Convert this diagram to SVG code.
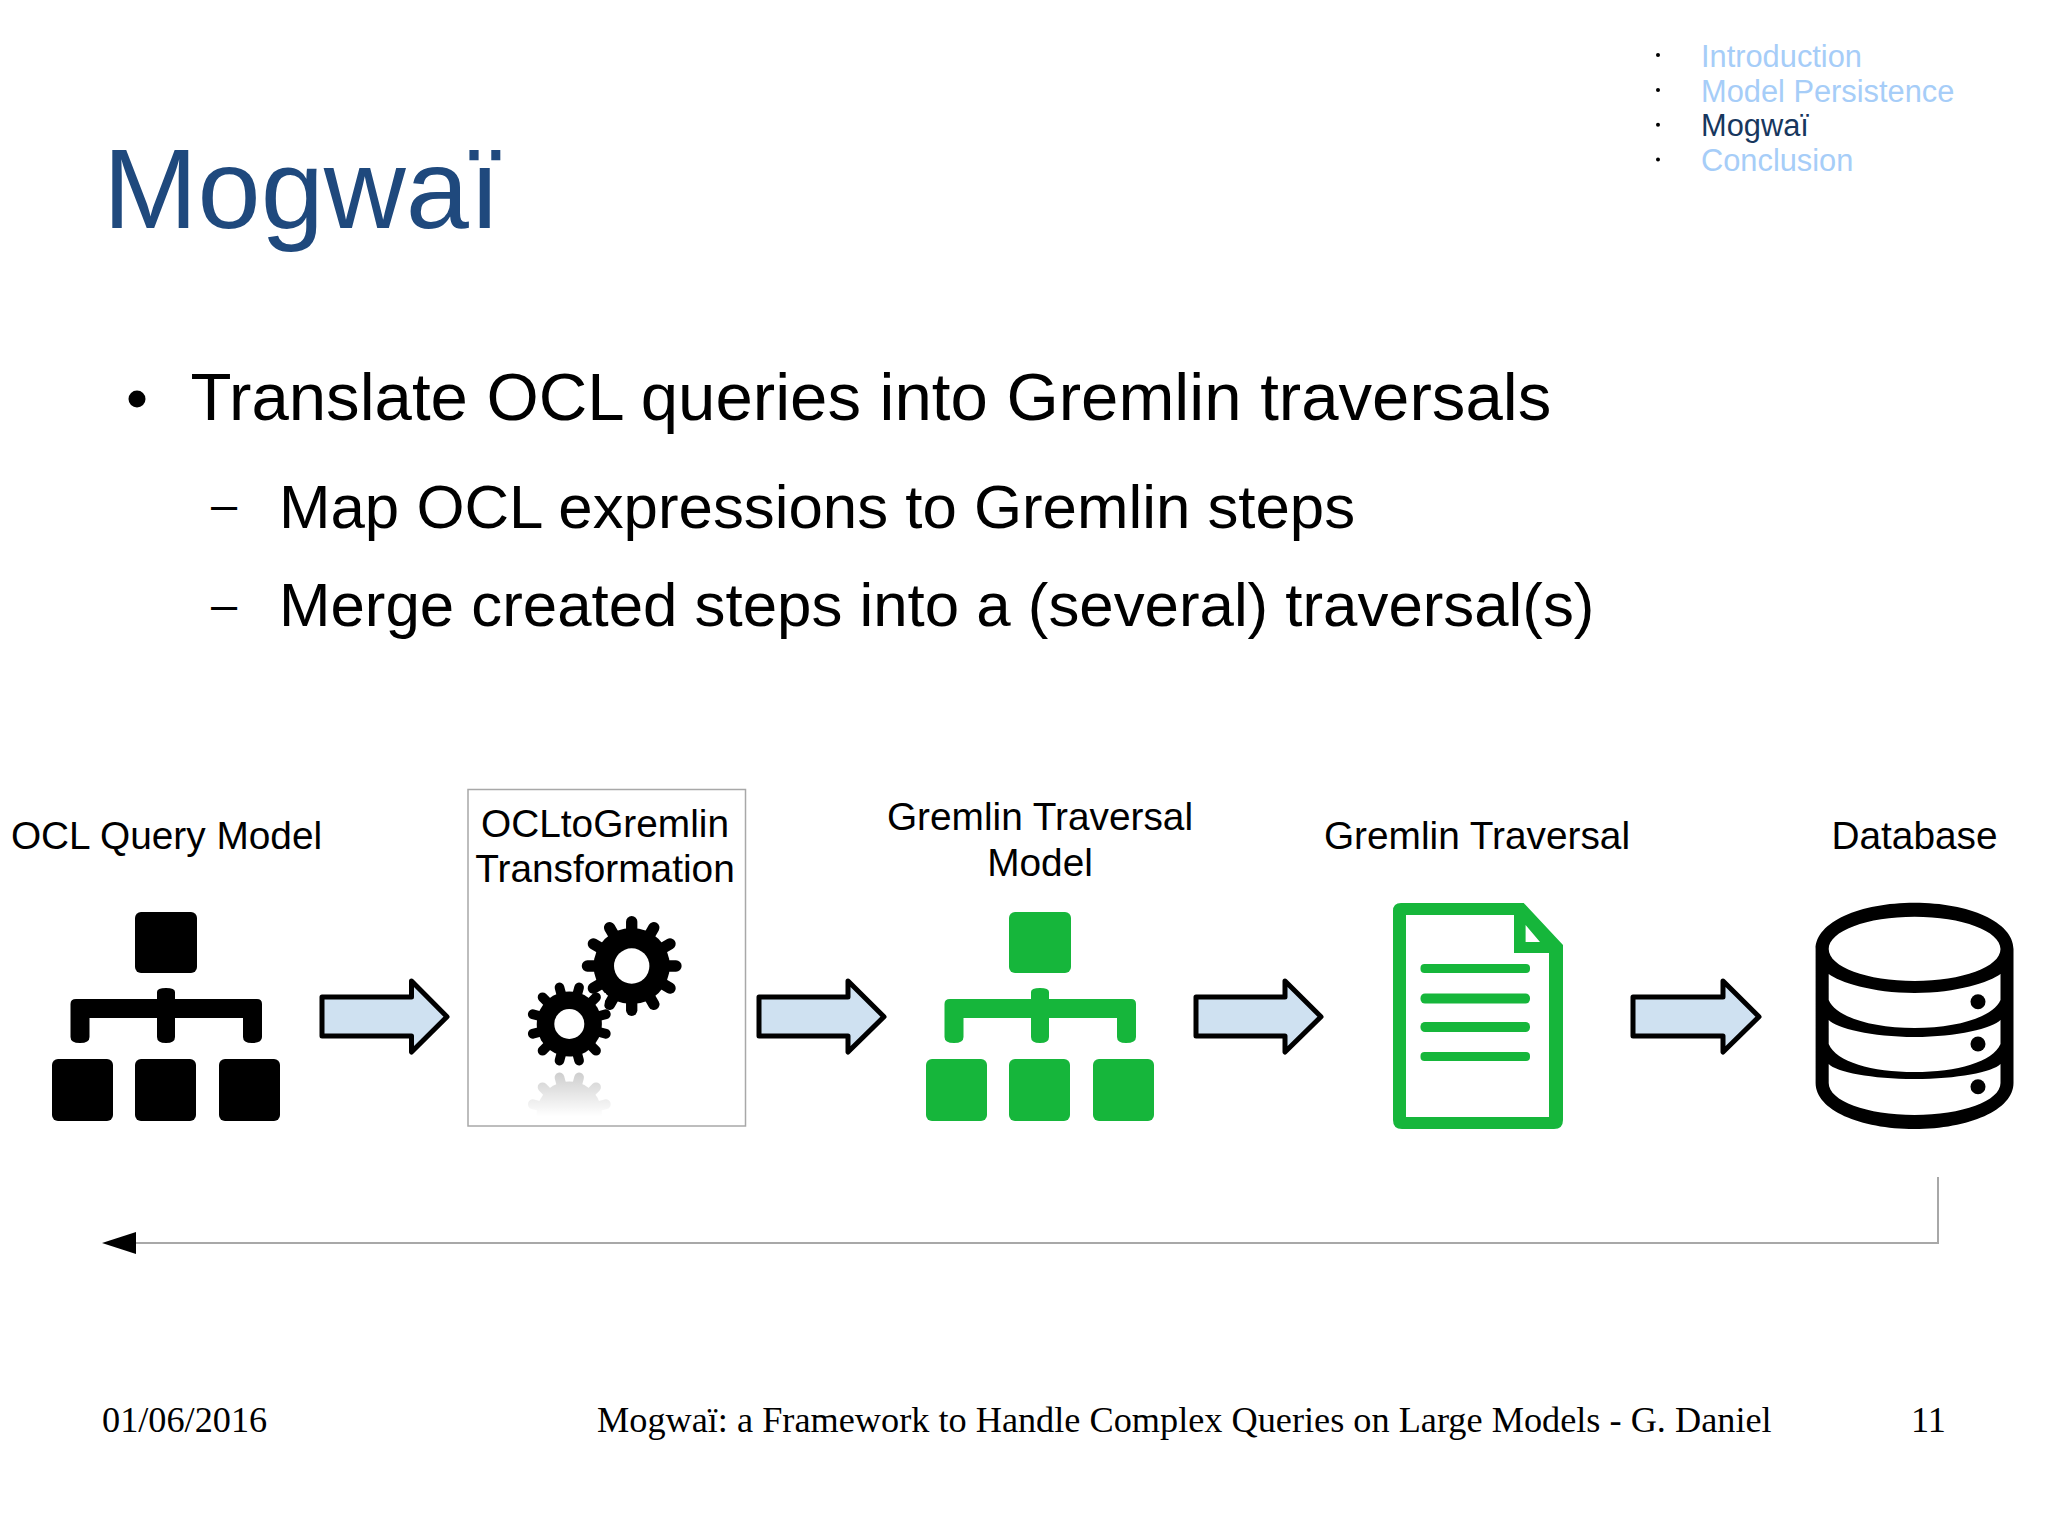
<svg xmlns="http://www.w3.org/2000/svg" xmlns:xlink="http://www.w3.org/1999/xlink" width="2048" height="1535" viewBox="0 0 2048 1535">
<style>
text{font-family:"Liberation Sans",Arial,sans-serif;fill:#000}
.title{font-size:113.5px;fill:#1f497d}
.l1{font-size:67.15px}
.l2{font-size:61.8px}
.dash{font-size:47px}
.nav{font-size:30.8px;fill:#a6cdf8}
.navon{font-size:30.8px;fill:#17375e}
.lbl{font-size:38.8px;text-anchor:middle}
.foot{font-family:"Liberation Serif",serif;font-size:36.27px}
.blk{fill:#000}
.grn{fill:#16b63b}
.block{fill:#cfe1f1;stroke:#000;stroke-width:5;stroke-linejoin:round}
.wire{fill:none;stroke:#a8a8a8;stroke-width:2}
.tooth{stroke:#000;stroke-width:11;stroke-linecap:round}
</style>
<defs>
<marker id="tri" markerUnits="userSpaceOnUse" markerWidth="34" markerHeight="22" refX="0" refY="11" orient="auto"><path d="M0,0L34,11L0,22Z" fill="#000"/></marker>
<linearGradient id="fade" x1="0" y1="0" x2="0" y2="1"><stop offset="0" stop-color="#fff" stop-opacity="0.05"/><stop offset="1" stop-color="#fff" stop-opacity="1"/></linearGradient>
<clipPath id="boxclip"><rect x="469" y="1060" width="275" height="62"/></clipPath>
<g id="gear"><circle r="37" fill="#000"/>
<g id="t3"><line class="tooth" x1="0" y1="-30" x2="0" y2="-43"/><line class="tooth" x1="0" y1="-30" x2="0" y2="-43" transform="rotate(30)"/><line class="tooth" x1="0" y1="-30" x2="0" y2="-43" transform="rotate(60)"/></g>
<use xlink:href="#t3" href="#t3" transform="rotate(90)"/><use xlink:href="#t3" href="#t3" transform="rotate(180)"/><use xlink:href="#t3" href="#t3" transform="rotate(270)"/>
</g>
<g id="tree">
<rect x="83" y="0" width="62" height="61" rx="6"/>
<path d="M18.500,104 V92 Q18.500,87 24,87 H105 V80 Q105,76 114,76 Q123,76 123,80 V87 H205 Q210,87 210,92 V125 Q210,131 200,131 Q191,131 191,125 V106 H123 V125 Q123,131 114,131 Q105,131 105,125 V106 H37.500 V125 Q37.500,131 28,131 Q18.500,131 18.500,125 Z"/>
<rect x="0" y="147" width="61" height="62" rx="6"/><rect x="83" y="147" width="61" height="62" rx="6"/><rect x="167" y="147" width="61" height="62" rx="6"/>
</g>
</defs>

<g id="header">
<text class="title" x="103" y="228">Mogwaï</text>
</g>
<g id="nav">
<circle cx="1658" cy="55" r="2"/><circle cx="1658" cy="90" r="2"/><circle cx="1658" cy="124.700" r="2"/><circle cx="1658" cy="159.500" r="2"/>
<text class="nav" x="1701" y="67.300">Introduction</text>
<text class="nav" x="1701" y="102">Model Persistence</text>
<text class="navon" x="1701" y="136">Mogwaï</text>
<text class="nav" x="1701" y="170.700">Conclusion</text>
</g>
<g id="body">
<circle cx="137" cy="399" r="8.500"/>
<text class="l1" x="190.500" y="420">Translate OCL queries into Gremlin traversals</text>
<text class="dash" x="211" y="519.500">–</text>
<text class="l2" x="279" y="528">Map OCL expressions to Gremlin steps</text>
<text class="dash" x="211" y="620">–</text>
<text class="l2" x="279" y="626">Merge created steps into a (several) traversal(s)</text>
</g>

<g id="connectors">
<polygon class="block" points="322,997 411.500,997 411.500,981 447,1016.700 411.500,1052 411.500,1036 322,1036" />
<polygon class="block" points="759,997 848,997 848,981 884,1016.700 848,1052 848,1036 759,1036" />
<polygon class="block" points="1196,997 1285,997 1285,981 1321,1016.700 1285,1052 1285,1036 1196,1036" />
<polygon class="block" points="1633,997 1723,997 1723,981 1759,1016.700 1723,1052 1723,1036 1633,1036" />
<path class="wire" d="M1938,1177V1243H136" marker-end="url(#tri)"/>
</g>

<g id="node-ocl-query-model">
<text class="lbl" x="166.500" y="849">OCL Query Model</text>
<use xlink:href="#tree" href="#tree" x="52" y="912" class="blk"/>
</g>
<g id="node-ocltogremlin">
<rect x="468" y="789.500" width="277.500" height="336.500" fill="#fff" stroke="#a8a8a8" stroke-width="1.500"/>
<text class="lbl" x="605" y="837">OCLtoGremlin</text>
<text class="lbl" x="605" y="882">Transformation</text>
<use xlink:href="#gear" href="#gear" transform="translate(631.700,966) scale(1.03)"/>
<circle cx="631.700" cy="966" r="17.700" fill="#fff"/>
<path d="M588,999L606,993L604,1008Z" fill="#fff"/>
<use xlink:href="#gear" href="#gear" transform="translate(569.300,1024) rotate(15) scale(0.88)"/>
<circle cx="569.300" cy="1024" r="15" fill="#fff"/>
<g clip-path="url(#boxclip)">
<use xlink:href="#gear" href="#gear" transform="translate(569.300,1114) rotate(15) scale(0.88)" opacity="0.2"/>
<rect x="520" y="1072" width="100" height="44" fill="url(#fade)"/>
<rect x="520" y="1116" width="100" height="8" fill="#fff"/>
</g>
</g>
<g id="node-gremlin-traversal-model">
<text class="lbl" x="1040" y="830">Gremlin Traversal</text>
<text class="lbl" x="1040" y="876">Model</text>
<use xlink:href="#tree" href="#tree" x="926" y="912" class="grn"/>
</g>
<g id="node-gremlin-traversal">
<text class="lbl" x="1477" y="849">Gremlin Traversal</text>
<path class="grn" fill-rule="evenodd" d="M1401,903H1523.700L1563,945V1120Q1563,1129 1554,1129H1402Q1393,1129 1393,1120V911Q1393,903 1401,903ZM1406,915V1117H1549V953H1514V915ZM1525.600,925V942H1540Z"/>
<rect class="grn" x="1420.500" y="964" width="109.500" height="9" rx="4"/>
<rect class="grn" x="1420.500" y="993.500" width="109.500" height="10" rx="4.500"/>
<rect class="grn" x="1420.500" y="1022" width="109.500" height="10" rx="4.500"/>
<rect class="grn" x="1420.500" y="1052" width="109.500" height="9" rx="4"/>
</g>
<g id="node-database">
<text class="lbl" x="1914.500" y="849">Database</text>
<path fill-rule="evenodd" d="M1815.600,949C1815.600,922 1860,902.700 1914.500,902.700C1969,902.700 2013.500,922 2013.500,949V1083C2013.500,1110 1969,1129 1914.500,1129C1860,1129 1815.600,1110 1815.600,1083ZM1828.700,949C1828.700,967 1867,981 1914.600,981C1962,981 2000.500,967 2000.500,949C2000.500,931 1962,916.700 1914.600,916.700C1867,916.700 1828.700,931 1828.700,949ZM1828.700,974V1000C1836,1017 1872,1028 1914.600,1028C1957,1028 1993,1017 2000.500,1000V974C1990,982 1957,993 1914.600,993C1872,993 1839,982 1828.700,974ZM1828.700,1020V1044C1836,1062 1872,1072 1914.600,1072C1957,1072 1993,1062 2000.500,1044V1020C1993,1028 1957,1037 1914.600,1037C1872,1037 1836,1028 1828.700,1020ZM1828.700,1064V1083C1828.700,1101 1867,1115 1914.500,1115C1962,1115 2000.500,1101 2000.500,1083V1064C1993,1072 1957,1079 1914.600,1079C1872,1079 1836,1072 1828.700,1064Z"/>
<ellipse cx="1978" cy="1001.700" rx="7.500" ry="7.500"/><ellipse cx="1978" cy="1044" rx="7.500" ry="7.500"/><ellipse cx="1978" cy="1086.700" rx="7.500" ry="7.500"/>
</g>

<g id="footer">
<text class="foot" x="102" y="1431.500">01/06/2016</text>
<text class="foot" x="597" y="1431.500">Mogwaï: a Framework to Handle Complex Queries on Large Models - G. Daniel</text>
<text class="foot" x="1911" y="1431.500">11</text>
</g>
</svg>
